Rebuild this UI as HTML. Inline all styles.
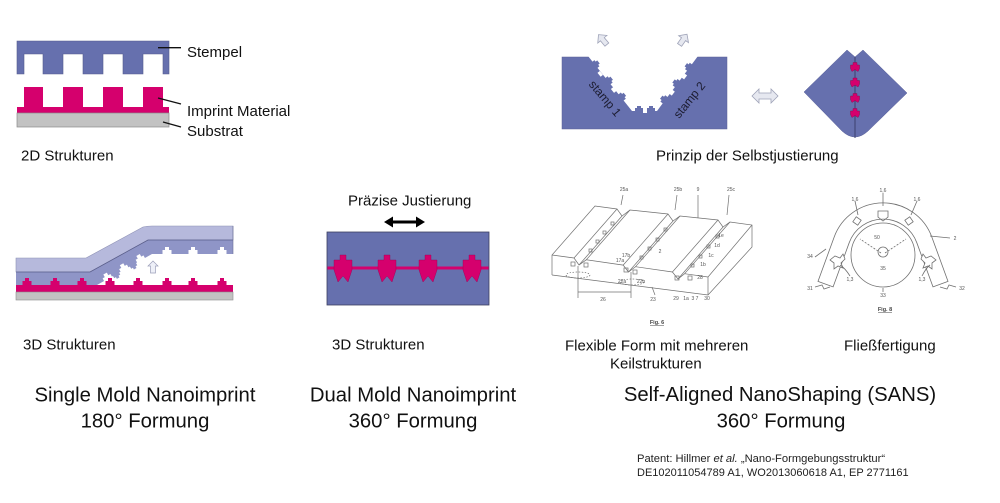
<!DOCTYPE html>
<html>
<head>
<meta charset="utf-8">
<style>
html,body{margin:0;padding:0;background:#fff;}
body{width:1000px;height:503px;overflow:hidden;}
svg{display:block;}
text{font-family:"Liberation Sans",Arial,sans-serif;}
</style>
</head>
<body>
<svg width="1000" height="503" viewBox="0 0 1000 503" xmlns="http://www.w3.org/2000/svg">
<rect width="1000" height="503" fill="#fff"/>

<!-- ========== 2D structures (top-left) ========== -->
<path d="M17,41 H169 V74 H163 V54 H143 V74 H123 V54 H103 V74 H83 V54 H63 V74 H43 V54 H24 V74 H17 Z" fill="#6670ae" stroke="#555b8e" stroke-width="0.6"/>
<path d="M17,107 H24 V87 H43 V107 H63 V87 H83 V107 H103 V87 H123 V107 H143 V87 H163 V107 H169 V113 H17 Z" fill="#d5006d"/>
<rect x="17" y="113" width="152" height="14" fill="#c2c2c2" stroke="#8a8a8a" stroke-width="0.7"/>
<line x1="158" y1="47.7" x2="181" y2="47.7" stroke="#111" stroke-width="1.3"/>
<line x1="158" y1="98" x2="181" y2="104" stroke="#111" stroke-width="1.3"/>
<line x1="163" y1="122" x2="181" y2="127" stroke="#111" stroke-width="1.3"/>
<text x="187" y="57" font-size="15" fill="#111">Stempel</text>
<text x="187" y="116" font-size="15" fill="#111">Imprint Material</text>
<text x="187" y="136" font-size="15" fill="#111">Substrat</text>
<text x="21" y="160.5" font-size="15" fill="#111">2D Strukturen</text>

<!-- ========== Self alignment principle (top-right) ========== -->
<rect x="562" y="57" width="165" height="72" fill="#6670ae" stroke="#5a6098" stroke-width="0.5"/>
<polygon points="588,56 632,111 657,111 698,56" fill="#fff"/>
<g fill="#6670ae">
  <g transform="translate(594.6,65.1) rotate(50.8)"><path d="M-4,0.5 V-3 H-2 V-5 H2 V-3 H4 V0.5 Z"/></g>
  <g transform="translate(607.8,81.3) rotate(50.8)"><path d="M-4,0.5 V-3 H-2 V-5 H2 V-3 H4 V0.5 Z"/></g>
  <g transform="translate(621,97.5) rotate(50.8)"><path d="M-4,0.5 V-3 H-2 V-5 H2 V-3 H4 V0.5 Z"/></g>
  <g transform="translate(665.2,100.2) rotate(-52.8)"><path d="M-4,0.5 V-3 H-2 V-5 H2 V-3 H4 V0.5 Z"/></g>
  <g transform="translate(677.5,84) rotate(-52.8)"><path d="M-4,0.5 V-3 H-2 V-5 H2 V-3 H4 V0.5 Z"/></g>
  <g transform="translate(689.8,67.8) rotate(-52.8)"><path d="M-4,0.5 V-3 H-2 V-5 H2 V-3 H4 V0.5 Z"/></g>
  <g transform="translate(639,111)"><path d="M-4,0.5 V-3 H-2 V-5 H2 V-3 H4 V0.5 Z"/></g>
  <g transform="translate(651,111)"><path d="M-4,0.5 V-3 H-2 V-5 H2 V-3 H4 V0.5 Z"/></g>
</g>
<g fill="#fff">
  <g transform="translate(601,73.2) rotate(50.8)"><rect x="-2.5" y="-0.5" width="5" height="3"/></g>
  <g transform="translate(614.4,89.4) rotate(50.8)"><rect x="-2.5" y="-0.5" width="5" height="3"/></g>
  <g transform="translate(671.3,92.1) rotate(-52.8)"><rect x="-2.5" y="-0.5" width="5" height="3"/></g>
  <g transform="translate(683.6,75.9) rotate(-52.8)"><rect x="-2.5" y="-0.5" width="5" height="3"/></g>
  <g transform="translate(645,111)"><rect x="-2" y="-0.5" width="4" height="2.5"/></g>
</g>
<text x="0" y="0" font-size="12" fill="#1c1c30" text-anchor="middle" transform="translate(602,101) rotate(50)">stamp 1</text>
<text x="0" y="0" font-size="12" fill="#1c1c30" text-anchor="middle" transform="translate(692.5,102.5) rotate(-51)">stamp 2</text>
<g fill="#e6e8f0" stroke="#9fa3b8" stroke-width="0.8">
  <g transform="translate(603,40) rotate(-40)"><path d="M0,-7 L6,-1 L2.5,-1 L2.5,6 L-2.5,6 L-2.5,-1 L-6,-1 Z"/></g>
  <g transform="translate(683,40) rotate(35)"><path d="M0,-7 L6,-1 L2.5,-1 L2.5,6 L-2.5,6 L-2.5,-1 L-6,-1 Z"/></g>
  <g transform="translate(765,96)"><path d="M-13,0 L-6,-7 L-6,-3 L6,-3 L6,-7 L13,0 L6,7 L6,3 L-6,3 L-6,7 Z"/></g>
</g>
<path d="M847,50 L855,57 L863,50 L907,93 L868,131 Q855,143 842,131 L804,92 Z" fill="#6670ae" stroke="#5a6098" stroke-width="0.5"/>
<line x1="855" y1="57" x2="855" y2="138" stroke="#3c416e" stroke-width="1"/>
<g fill="#d5006d" stroke="#8a0047" stroke-width="0.4">
  <g transform="translate(855,67)"><path d="M-2,-4.5 H2 V-2 H4.5 V1.5 L3,4.5 L0,2.5 L-3,4.5 L-4.5,1.5 V-2 H-2 Z"/></g>
  <g transform="translate(855,82.5)"><path d="M-2,-4.5 H2 V-2 H4.5 V1.5 L3,4.5 L0,2.5 L-3,4.5 L-4.5,1.5 V-2 H-2 Z"/></g>
  <g transform="translate(855,98)"><path d="M-2,-4.5 H2 V-2 H4.5 V1.5 L3,4.5 L0,2.5 L-3,4.5 L-4.5,1.5 V-2 H-2 Z"/></g>
  <g transform="translate(855,113)"><path d="M-2,-4.5 H2 V-2 H4.5 V1.5 L3,4.5 L0,2.5 L-3,4.5 L-4.5,1.5 V-2 H-2 Z"/></g>
</g>
<text x="656" y="160.5" font-size="15" fill="#111">Prinzip der Selbstjustierung</text>

<!-- ========== Single mold 3D (left middle) ========== -->
<path d="M16,258 L86,258 L143,227 Q147,226 152,226 L233,226 L233,240 L148,240 L90,272 L16,272 Z" fill="#b6b9dc" stroke="#8e91b4" stroke-width="0.6"/>
<path d="M16,272 L90,272 L148,240 L233,240 L233,254 L152,254 L97,285 L16,285 Z" fill="#8f95c7"/>
<polyline points="16,272 90,272 148,240 233,240" fill="none" stroke="#5a5e8a" stroke-width="0.8"/>
<line x1="233" y1="226" x2="233" y2="254" stroke="#6a6e96" stroke-width="0.6"/>
<g fill="#fff">
  <path d="M162.5,254.5 V250 H165 V247 H169 V250 H171.5 V254.5 Z"/>
  <path d="M188.5,254.5 V250 H191 V247 H195 V250 H197.5 V254.5 Z"/>
  <path d="M217.5,254.5 V250 H220 V247 H224 V250 H226.5 V254.5 Z"/>
  <g transform="translate(108,278.8) rotate(-29.4)"><path d="M-4.5,0.5 V-3 H-2 V-6 H2 V-3 H4.5 V0.5 Z"/></g>
  <g transform="translate(124.5,269.5) rotate(-29.4)"><path d="M-4.5,0.5 V-3 H-2 V-6 H2 V-3 H4.5 V0.5 Z"/></g>
  <g transform="translate(141,260.2) rotate(-29.4)"><path d="M-4.5,0.5 V-3 H-2 V-6 H2 V-3 H4.5 V0.5 Z"/></g>
</g>
<g fill="#8f95c7">
  <g transform="translate(116,274.2) rotate(-29.4)"><path d="M-3.5,-0.5 V2.5 H-1.5 V4.5 H1.5 V2.5 H3.5 V-0.5 Z"/></g>
  <g transform="translate(133,264.8) rotate(-29.4)"><path d="M-3.5,-0.5 V2.5 H-1.5 V4.5 H1.5 V2.5 H3.5 V-0.5 Z"/></g>
</g>
<rect x="16" y="285" width="217" height="7" fill="#d5006d"/>
<g fill="#d5006d">
  <path d="M22.5,285.5 V281 H25 V278 H29 V281 H31.5 V285.5 Z"/>
  <path d="M50.5,285.5 V281 H53 V278 H57 V281 H59.5 V285.5 Z"/>
  <path d="M77.5,285.5 V281 H80 V278 H84 V281 H86.5 V285.5 Z"/>
  <path d="M105.5,285.5 V281 H108 V278 H112 V281 H114.5 V285.5 Z"/>
  <path d="M133.5,285.5 V281 H136 V278 H140 V281 H142.5 V285.5 Z"/>
  <path d="M162.5,285.5 V281 H165 V278 H169 V281 H171.5 V285.5 Z"/>
  <path d="M188.5,285.5 V281 H191 V278 H195 V281 H197.5 V285.5 Z"/>
  <path d="M217.5,285.5 V281 H220 V278 H224 V281 H226.5 V285.5 Z"/>
</g>
<rect x="16" y="292" width="217" height="8" fill="#c2c2c2" stroke="#8a8a8a" stroke-width="0.6"/>
<path d="M153,261 L158,266 L155.5,266 L155.5,273 L150.5,273 L150.5,266 L148,266 Z" fill="#eef0f8" stroke="#9a9db8" stroke-width="0.7"/>

<!-- ========== Dual mold (middle) ========== -->
<text x="348" y="205.5" font-size="15" fill="#111">Präzise Justierung</text>
<path d="M384,222 L393,216.5 L393,220.5 L416,220.5 L416,216.5 L425,222 L416,227.5 L416,223.5 L393,223.5 L393,227.5 Z" fill="#000"/>
<rect x="327" y="232" width="162" height="73" fill="#6670ae" stroke="#3d4060" stroke-width="0.8"/>
<rect x="327.4" y="266.5" width="161.2" height="3" fill="#d5006d"/>
<g fill="#d5006d" stroke="#9a0050" stroke-width="0.4">
  <g transform="translate(343,268)"><path d="M-3,-13 H3 V-8 H9 V2 L5,14 L0,8 L-5,14 L-9,2 V-8 H-3 Z"/></g>
  <g transform="translate(387,268)"><path d="M-3,-13 H3 V-8 H9 V2 L5,14 L0,8 L-5,14 L-9,2 V-8 H-3 Z"/></g>
  <g transform="translate(428,268)"><path d="M-3,-13 H3 V-8 H9 V2 L5,14 L0,8 L-5,14 L-9,2 V-8 H-3 Z"/></g>
  <g transform="translate(472,268)"><path d="M-3,-13 H3 V-8 H9 V2 L5,14 L0,8 L-5,14 L-9,2 V-8 H-3 Z"/></g>
</g>

<!-- ========== Fig. 6 patent drawing ========== -->
<g fill="none" stroke="#707070" stroke-width="0.7">
  <polyline points="552,275 552,255 595,206 617,209 622,216 630,210 668,214 673,221 680,216 718,220 723,227 730,222 752,225 752,247 708,295 552,275"/>
  <polyline points="752,225 708,277 708,295"/>
  <polyline points="552,255 574,258 579,265 586.3,259.8 623.2,265.1 628.5,272 635.5,266.7 672.4,272 678,279 684.6,273.7 708,277"/>
  <line x1="617" y1="209" x2="574" y2="258"/>
  <line x1="630" y1="210" x2="586.3" y2="259.8"/>
  <line x1="622" y1="216" x2="579" y2="265"/>
  <line x1="668" y1="214" x2="623.2" y2="265.1"/>
  <line x1="680" y1="216" x2="635.5" y2="266.7"/>
  <line x1="673" y1="221" x2="628.5" y2="272"/>
  <line x1="718" y1="220" x2="672.4" y2="272"/>
  <line x1="730" y1="222" x2="684.6" y2="273.7"/>
  <line x1="723" y1="227" x2="678" y2="279"/>
  <rect x="611" y="222" width="3" height="3"/>
  <rect x="603" y="231" width="3" height="3"/>
  <rect x="596" y="240" width="3" height="3"/>
  <rect x="589" y="249" width="3" height="3"/>
  <rect x="571" y="262" width="4" height="4"/>
  <rect x="584" y="263" width="4" height="4"/>
  <rect x="664" y="228" width="3" height="3"/>
  <rect x="656" y="238" width="3" height="3"/>
  <rect x="648" y="247" width="3" height="3"/>
  <rect x="640" y="256" width="3" height="3"/>
  <rect x="624" y="268" width="4" height="4"/>
  <rect x="633" y="270" width="4" height="4"/>
  <rect x="716" y="235" width="3" height="3"/>
  <rect x="707" y="245" width="3" height="3"/>
  <rect x="699" y="255" width="3" height="3"/>
  <rect x="691" y="264" width="3" height="3"/>
  <rect x="675" y="276" width="4" height="4"/>
  <rect x="688" y="276" width="4" height="4"/>
  <ellipse cx="578" cy="275" rx="12" ry="3" stroke-dasharray="1.5,1.5"/>
  <ellipse cx="632" cy="282" rx="12" ry="3" stroke-dasharray="1.5,1.5"/>
  <line x1="578" y1="266" x2="578" y2="298"/>
  <line x1="631" y1="272" x2="631" y2="298"/>
  <line x1="578" y1="292" x2="631" y2="292"/>
  <line x1="623" y1="195" x2="621" y2="205"/>
  <line x1="677" y1="195" x2="675" y2="210"/>
  <line x1="729" y1="195" x2="727" y2="215"/>
  <line x1="698" y1="195" x2="698" y2="218"/>
  <line x1="655" y1="295" x2="652" y2="287"/>
</g>
<g font-size="5" fill="#555" text-anchor="middle">
  <text x="624" y="191">25a</text>
  <text x="678" y="191">25b</text>
  <text x="698" y="191">9</text>
  <text x="731" y="191">25c</text>
  <text x="660" y="253">2</text>
  <text x="603" y="301">26</text>
  <text x="653" y="301">23</text>
  <text x="626" y="257">17b</text>
  <text x="620" y="262">17a</text>
  <text x="622" y="283">22a</text>
  <text x="641" y="283">22b</text>
  <text x="721" y="237">1e</text>
  <text x="717" y="247">1d</text>
  <text x="711" y="257">1c</text>
  <text x="703" y="266">1b</text>
  <text x="700" y="279">28</text>
  <text x="676" y="300">29</text>
  <text x="686" y="300">1a</text>
  <text x="695" y="300">3 7</text>
  <text x="707" y="300">30</text>
</g>
<text x="657" y="324" font-size="5.5" fill="#444" text-anchor="middle" font-weight="bold">Fig. 6</text>
<line x1="650" y1="325.5" x2="664" y2="325.5" stroke="#444" stroke-width="0.5"/>

<!-- ========== Fig. 8 patent drawing ========== -->
<g fill="none" stroke="#707070" stroke-width="0.8">
  <path d="M818,281.4 L834.1,237.2 A52,52 0 0 1 931.9,237.2 L948,281.4 L933,286.9 L916.8,242.7 A36,36 0 0 0 849.2,242.7 L833.1,286.9 Z" fill="#fff"/>
  <circle cx="883" cy="255" r="32"/>
  <circle cx="883" cy="252" r="5"/>
  <path d="M878,236 L878,230 L888,230 L888,236 L883,240 Z" transform="translate(0,-19)"/>
  <rect x="854" y="218" width="6" height="6" transform="rotate(35 857 221)"/>
  <rect x="906" y="218" width="6" height="6" transform="rotate(-35 909 221)"/>
  <path d="M835,256 L840,258 L843,254 L845,259 L841,263 L843,268 L838,266 L834,269 L834,263 L830,260 Z" fill="#fff"/>
  <path d="M931,256 L926,258 L923,254 L921,259 L925,263 L923,268 L928,266 L932,269 L932,263 L936,260 Z" fill="#fff"/>
  <line x1="881" y1="253" x2="860" y2="239" stroke-dasharray="2,1.5"/>
  <line x1="885" y1="253" x2="906" y2="239" stroke-dasharray="2,1.5"/>
  <line x1="855" y1="201" x2="858" y2="215"/>
  <line x1="883" y1="193" x2="883" y2="206"/>
  <line x1="917" y1="201" x2="911" y2="215"/>
  <path d="M850,276 Q845,268 840,265"/>
  <path d="M922,276 Q926,268 930,265"/>
  <line x1="950" y1="238" x2="930" y2="236"/>
  <line x1="815" y1="257" x2="826" y2="249"/>
  <path d="M815,287 L822,285 L824,289 L830,287"/>
  <path d="M956,287 L949,285 L947,289 L940,287"/>
  <line x1="883" y1="292" x2="883" y2="288"/>
</g>
<g font-size="5" fill="#555" text-anchor="middle">
  <text x="855" y="201">1,6</text>
  <text x="883" y="192">1,6</text>
  <text x="917" y="201">1,6</text>
  <text x="877" y="239">50</text>
  <text x="883" y="270">35</text>
  <text x="883" y="297">33</text>
  <text x="955" y="240">2</text>
  <text x="810" y="258">34</text>
  <text x="850" y="281">1,3</text>
  <text x="922" y="281">1,3</text>
  <text x="810" y="290">31</text>
  <text x="962" y="290">32</text>
</g>
<text x="885" y="311" font-size="5.5" fill="#444" text-anchor="middle" font-weight="bold">Fig. 8</text>
<line x1="878" y1="312.5" x2="892" y2="312.5" stroke="#444" stroke-width="0.5"/>

<!-- ========== Captions ========== -->
<text x="23" y="349.5" font-size="15" fill="#111">3D Strukturen</text>
<text x="332" y="349.5" font-size="15" fill="#111">3D Strukturen</text>
<text x="565" y="350.5" font-size="15" fill="#111">Flexible Form mit mehreren</text>
<text x="610" y="368.5" font-size="15" fill="#111">Keilstrukturen</text>
<text x="844" y="350.5" font-size="15" fill="#111">Fließfertigung</text>

<g font-size="20.3" fill="#111" text-anchor="middle">
  <text x="145" y="401.5">Single Mold Nanoimprint</text>
  <text x="145" y="427.5">180° Formung</text>
  <text x="413" y="401.5">Dual Mold Nanoimprint</text>
  <text x="413" y="427.5">360° Formung</text>
  <text x="780" y="401">Self-Aligned NanoShaping (SANS)</text>
  <text x="781" y="427.5">360° Formung</text>
</g>

<text x="637" y="462" font-size="11.2" fill="#222">Patent: Hillmer <tspan font-style="italic">et al.</tspan> „Nano-Formgebungsstruktur“</text>
<text x="637" y="476" font-size="11" fill="#222">DE102011054789 A1, WO2013060618 A1, EP 2771161</text>
</svg>
</body>
</html>
